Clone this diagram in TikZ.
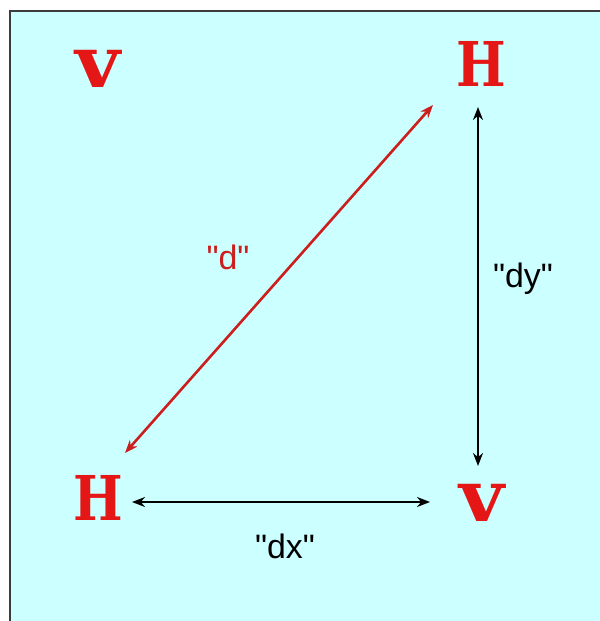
\documentclass[tikz,border=0pt]{standalone}
\usepackage{fontspec}
\newfontfamily\lblfont{Liberation Sans}
\newfontfamily\slabfont{DejaVu Serif}
\usetikzlibrary{arrows.meta}
\definecolor{bgcyan}{RGB}{204,255,255}
\definecolor{letterred}{RGB}{228,22,22}
\definecolor{dred}{RGB}{205,30,30}
\definecolor{framegray}{RGB}{60,60,60}
\newcommand\bigH{\fontsize{62}{62}\selectfont\scalebox{0.85}[1]{H}}
\newcommand\smallv{\fontsize{72}{72}\selectfont\scalebox{1.08}[1]{v}}
\tikzset{
  atom/.style={text=letterred, font=\slabfont\bfseries, anchor=base, inner sep=0pt},
  lbl/.style={font=\lblfont\fontsize{34}{34}\selectfont, inner sep=0pt},
  dimarrow/.style={line width=2.6bp, {Stealth[length=13bp,width=10bp]}-{Stealth[length=13bp,width=10bp]}}
}
\begin{document}
\begin{tikzpicture}[x=1bp,y=-1bp]
\useasboundingbox (0,0) rectangle (600,621);
\fill[bgcyan] (10,11) rectangle (600,621);
\draw[framegray, line width=2bp] (10,621) -- (10,11) -- (600,11);
\node[atom] (vtl) at (98,88) {\smallv};
\node[atom] (htr) at (481,87) {\bigH};
\node[atom] (hbl) at (98,520) {\bigH};
\node[atom] (vbr) at (482,521) {\smallv};
\coordinate (dA) at (125,453);
\coordinate (dB) at (433,105);
\coordinate (yA) at (478,107);
\coordinate (yB) at (478,466);
\coordinate (xA) at (132,502);
\coordinate (xB) at (430,502);
\draw[dimarrow, dred] (dA) -- (dB);
\draw[dimarrow, black] (yA) -- (yB);
\draw[dimarrow, black] (xA) -- (xB);
\node[lbl, text=dred] (dl) at (228,257) {"d"};
\node[lbl] (dyl) at (523,279) {"dy"};
\node[lbl] (dxl) at (285,546) {"dx"};
\end{tikzpicture}
\end{document}
